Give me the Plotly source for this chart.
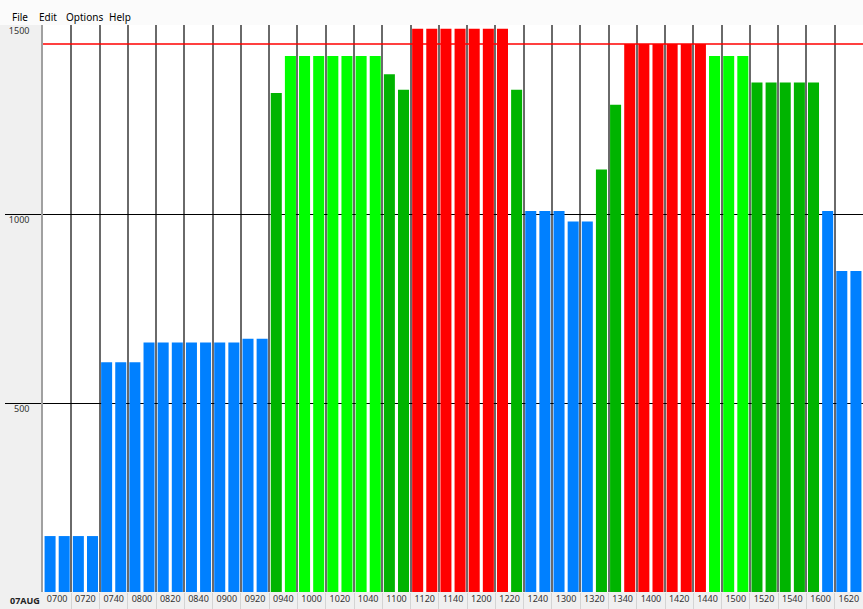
import plotly.graph_objects as go

# ---- data ----
times = []
for h in range(7, 17):
    for m in range(0, 60, 10):
        times.append(f"{h:02d}{m:02d}")
times = times[:58]  # 0700 .. 1650

values = [148, 148, 148, 148,
          608, 608, 608,
          660, 660, 660, 660, 660, 660, 660,
          670, 670,
          1320,
          1418, 1418, 1418, 1418, 1418, 1418, 1418,
          1370, 1329,
          1490, 1490, 1490, 1490, 1490, 1490, 1490,
          1329,
          1008, 1008, 1008,
          980, 980,
          1118, 1289,
          1450, 1450, 1450, 1450, 1450, 1450,
          1418, 1418, 1418,
          1348, 1348, 1348, 1348, 1348,
          1008,
          849, 849]

status = (["low"] * 16 + ["mid"] + ["high"] * 7 + ["mid"] * 2 + ["over"] * 7 + ["mid"]
          + ["low"] * 5 + ["mid"] * 2 + ["over"] * 6 + ["high"] * 3 + ["mid"] * 5 + ["low"] * 3)

status_colors = {"low": "#0080ff", "mid": "#00b400", "high": "#00ff00", "over": "#ff0000"}

tick_labels = times[0::2]          # 0700, 0720, ... 1620
date_label = "07AUG"
y_ticks = [500, 1000, 1500]
threshold = 1450
menu_items = ["File", "Edit", "Options", "Help"]

# ---- figure ----
n = len(values)
xs = list(range(n))
bar_colors = [status_colors[s] for s in status]

fig = go.Figure()
fig.add_trace(go.Bar(
    x=xs, y=values, marker=dict(color=bar_colors, line=dict(width=0)),
    hoverinfo="x+y", showlegend=False,
))

fig.add_hline(y=threshold, line=dict(color="#ff0000", width=1.5), layer="above")

centers = [i + 0.5 for i in range(0, n, 2)]
bounds = [i + 1.5 for i in range(0, n - 2, 2)]

fig.update_layout(
    width=863, height=609,
    margin=dict(l=43, r=0, t=25, b=17, pad=0, autoexpand=False),
    paper_bgcolor="#f0f0f0",
    plot_bgcolor="#ffffff",
    bargap=0.22,
    font=dict(family="Noto Sans, DejaVu Sans, sans-serif", size=9, color="#333333"),
    xaxis=dict(
        range=[-0.5, n - 0.5], automargin=False,
        tickmode="array", tickvals=centers, ticktext=tick_labels,
        ticks="", showgrid=False, zeroline=False,
        showline=False,
        tickfont=dict(size=9, color="#333333"),
        minor=dict(tickmode="array", tickvals=bounds, showgrid=True,
                   gridcolor="#6a6a6a", gridwidth=1.5,
                   ticks="outside", ticklen=17, tickcolor="#d4d4d4", tickwidth=1),
        fixedrange=True,
    ),
    yaxis=dict(
        range=[0, 1500], automargin=False,
        tickmode="array", tickvals=y_ticks, ticktext=[str(v) for v in y_ticks],
        ticklabelposition="outside bottom",
        ticklabelstandoff=10,
        ticks="", showgrid=True, gridcolor="#000000", gridwidth=1,
        zeroline=False,
        showline=True, linecolor="#a0a0a0", linewidth=1.5, mirror=True,
        tickfont=dict(size=9, color="#333333"),
        minor=dict(tickmode="array", tickvals=y_ticks[:2], ticks="outside",
                   ticklen=36, tickcolor="#000000", tickwidth=1, showgrid=False),
        fixedrange=True,
    ),
)

# menu bar background
fig.add_shape(type="rect", xref="paper", yref="paper",
              x0=-43 / 820, x1=1, y0=1, y1=1 + 25 / 567,
              fillcolor="#fbfbfb", line=dict(width=0), layer="below")

menu_x = [10, 37, 64, 107]
for label, px in zip(menu_items, menu_x):
    fig.add_annotation(text=label, xref="paper", yref="paper",
                       x=(px - 43) / 820, y=1 + 8 / 567,
                       xanchor="left", yanchor="middle", showarrow=False,
                       font=dict(size=10, color="#000000",
                                 family="Noto Sans, DejaVu Sans, sans-serif"))

fig.add_annotation(text="<b>" + date_label + "</b>", xref="paper", yref="paper",
                   x=(25 - 43) / 820, y=-8 / 567, xanchor="center", yanchor="middle",
                   showarrow=False, font=dict(size=9, color="#222222"))

fig.write_html("out.html", config={"displayModeBar": False},
               post_script="document.body.style.margin='0';document.body.style.overflow='hidden';")
